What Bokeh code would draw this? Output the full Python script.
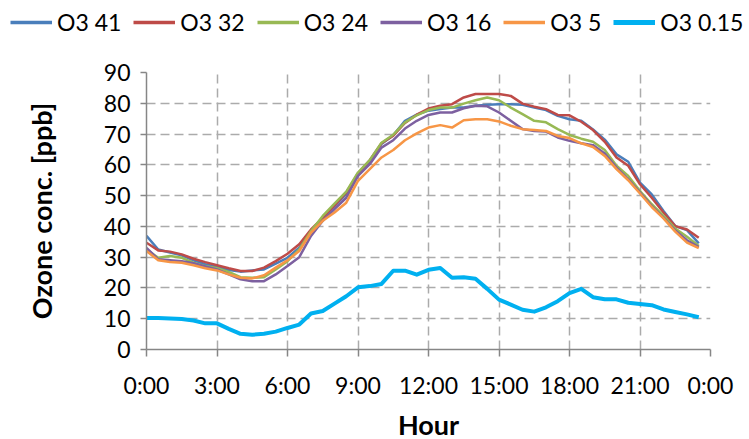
from bokeh.plotting import figure
from bokeh.layouts import column
from bokeh.models import FixedTicker, Legend, LegendItem, ColumnDataSource
from bokeh.embed import file_html
from bokeh.resources import INLINE

hours = [i * 0.5 for i in range(48)]

o3_41 = [36.9, 32.5, 31.5, 30.6, 29.0, 27.7, 26.8, 25.8, 25.3, 25.7, 26.0, 27.9,
         29.8, 33.1, 38.5, 42.8, 46.6, 50.6, 56.9, 61.0, 66.8, 69.6, 74.3, 76.3,
         77.6, 78.1, 78.6, 78.6, 79.2, 79.5, 79.7, 79.7, 79.5, 78.6, 77.8, 75.9,
         74.8, 74.3, 71.5, 68.2, 63.4, 61.0, 54.2, 50.4, 45.0, 40.1, 38.8, 34.5]
o3_32 = [34.7, 32.2, 31.8, 30.9, 29.5, 28.4, 27.4, 26.4, 25.5, 25.5, 26.6, 28.7,
         31.1, 34.2, 39.0, 42.8, 46.8, 51.0, 57.2, 61.5, 67.0, 69.5, 73.6, 76.3,
         78.3, 79.2, 79.7, 81.9, 83.0, 83.0, 83.0, 82.4, 79.9, 78.9, 78.1, 76.2,
         76.1, 74.0, 71.3, 67.5, 62.4, 59.7, 53.7, 49.3, 44.5, 40.1, 39.0, 36.3]
o3_24 = [32.5, 29.8, 30.4, 29.8, 28.2, 27.1, 26.4, 25.2, 23.5, 23.3, 23.5, 26.0,
         28.7, 32.5, 38.5, 43.4, 47.4, 51.3, 57.5, 61.5, 67.2, 69.8, 73.8, 76.1,
         77.8, 78.6, 78.6, 79.9, 81.0, 81.9, 81.0, 78.6, 76.5, 74.3, 73.8, 71.6,
         69.7, 68.5, 67.5, 64.8, 59.7, 56.4, 51.5, 47.2, 43.4, 39.3, 36.6, 33.6]
o3_16 = [33.0, 29.3, 29.0, 28.7, 28.0, 27.0, 26.0, 24.4, 22.8, 22.2, 22.2, 24.4,
         27.1, 30.0, 36.9, 41.8, 45.6, 49.3, 56.4, 60.2, 65.6, 68.0, 71.8, 74.3,
         76.2, 77.0, 77.0, 78.4, 79.2, 79.0, 77.0, 74.3, 71.6, 71.0, 70.8, 68.9,
         67.8, 67.0, 66.4, 63.7, 59.1, 55.3, 51.0, 46.6, 42.8, 38.7, 35.5, 33.3]
o3_5 = [32.0, 29.0, 28.4, 28.2, 27.4, 26.4, 25.7, 24.4, 23.3, 23.1, 24.1, 26.6,
        29.0, 32.0, 38.0, 41.8, 44.5, 47.7, 54.8, 58.6, 62.4, 64.8, 68.0, 70.2,
        72.1, 72.9, 72.1, 74.5, 74.8, 74.8, 74.1, 72.7, 71.6, 71.3, 71.0, 69.4,
        68.7, 67.0, 65.8, 62.9, 58.6, 55.0, 50.7, 46.3, 42.6, 38.3, 34.7, 32.9]
o3_015 = [10.2, 10.2, 10.1, 9.9, 9.4, 8.5, 8.5, 6.7, 5.1, 4.8, 5.1, 5.8,
          7.0, 8.1, 11.7, 12.5, 14.9, 17.3, 20.2, 20.6, 21.3, 25.6, 25.6, 24.3,
          25.9, 26.5, 23.3, 23.5, 23.0, 19.7, 16.2, 14.6, 12.9, 12.3, 13.7, 15.7,
          18.3, 19.7, 17.0, 16.3, 16.3, 15.2, 14.8, 14.4, 13.0, 12.2, 11.4, 10.5]

series_names = ["O3 41", "O3 32", "O3 24", "O3 16", "O3 5", "O3 0.15"]
series_values = [o3_41, o3_32, o3_24, o3_16, o3_5, o3_015]
series_colors = ["#4A7EBB", "#BE4B48", "#98B954", "#7D60A0", "#F79646", "#00B0F0"]
series_widths = [2.5, 2.5, 2.5, 2.5, 2.5, 4]

x_ticks = [0, 3, 6, 9, 12, 15, 18, 21, 24]
x_tick_labels = ["0:00", "3:00", "6:00", "9:00", "12:00", "15:00", "18:00", "21:00", "0:00"]
y_ticks = [0, 10, 20, 30, 40, 50, 60, 70, 80, 90]

FONT = "Lato"
LEG_H = 42

# legend strip (its data window holds none of the series, so only the legend shows)
lf = figure(width=749, height=LEG_H, output_backend="svg", toolbar_location=None,
            x_range=(0, 24), y_range=(-2, -1), frame_align=False,
            min_border_left=0, min_border_right=0, min_border_top=0, min_border_bottom=0)
lf.axis.visible = False
lf.grid.visible = False
lf.outline_line_color = None

# main chart
p = figure(width=749, height=445 - LEG_H, output_backend="svg", toolbar_location=None,
           x_range=(0, 24), y_range=(0, 90), frame_align=False,
           min_border_left=146, min_border_right=39, min_border_top=72 - LEG_H,
           min_border_bottom=96)
p.outline_line_color = None
p.background_fill_color = "white"

items = []
for name, vals, col, w in zip(series_names, series_values, series_colors, series_widths):
    src = ColumnDataSource(dict(x=hours, y=vals))
    p.line("x", "y", source=src, line_color=col, line_width=w, line_join="round")
    key = lf.line("x", "y", source=src, line_color=col, line_width=w + 1)
    items.append(LegendItem(label=name, renderers=[key]))

p.xaxis.ticker = FixedTicker(ticks=x_ticks)
p.xaxis.major_label_overrides = {t: l for t, l in zip(x_ticks, x_tick_labels)}
p.yaxis.ticker = FixedTicker(ticks=y_ticks)

for ax in (p.xaxis[0], p.yaxis[0]):
    ax.axis_line_color = "#868686"
    ax.axis_line_width = 1.5
    ax.major_tick_line_color = "#868686"
    ax.major_tick_line_width = 1.5
    ax.major_tick_in = 0
    ax.minor_tick_line_color = None
    ax.major_label_text_font = FONT
    ax.major_label_text_font_size = "23px"
    ax.major_label_text_color = "#000000"
    ax.axis_label_text_font = FONT
    ax.axis_label_text_font_size = "27px"
    ax.axis_label_text_font_style = "bold"
    ax.axis_label_text_color = "#000000"

p.xaxis.major_tick_out = 7
p.yaxis.major_tick_out = 6
p.xaxis.major_label_standoff = 14
p.yaxis.major_label_standoff = 10
p.xaxis.axis_label = "Hour"
p.yaxis.axis_label = "Ozone conc. [ppb]"
p.xaxis.axis_label_standoff = 6
p.yaxis.axis_label_standoff = 43

for g in (p.xgrid[0], p.ygrid[0]):
    g.grid_line_color = "#ABABAB"
    g.grid_line_width = 1.5
    g.grid_line_dash = "9 5"
p.xgrid.ticker = FixedTicker(ticks=x_ticks)
p.ygrid.ticker = FixedTicker(ticks=y_ticks)

legend = Legend(items=items, orientation="horizontal", location=(10, 6),
                glyph_width=42, glyph_height=20, label_standoff=5, spacing=12,
                padding=0, margin=0, border_line_color=None, background_fill_alpha=0,
                label_text_font=FONT, label_text_font_size="23px", label_text_color="#000000")
lf.add_layout(legend, "center")

layout = column(lf, p, spacing=0)
open("out.html", "w").write(file_html(layout, INLINE))
